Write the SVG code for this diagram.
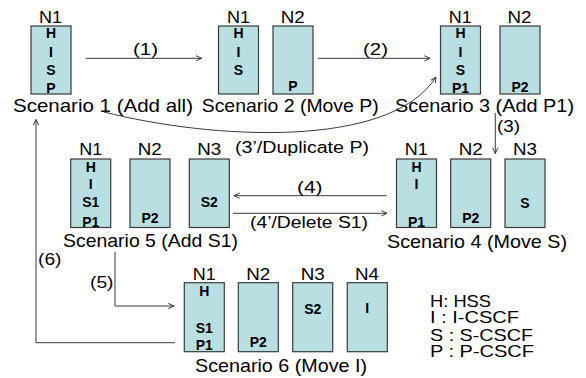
<svg xmlns="http://www.w3.org/2000/svg" width="586" height="378" viewBox="0 0 586 378">
  <style>
    .box { fill: #b9dfe3; stroke: #3a3a3a; stroke-width: 1.2; }
    .nlab { font-family: "Liberation Sans", Arial, sans-serif; font-size: 16px; fill: #000; text-anchor: middle; }
    .srv { font-family: "Liberation Sans", Arial, sans-serif; font-size: 14px; font-weight: bold; fill: #000; text-anchor: middle; }
    .cap { font-family: "Liberation Sans", Arial, sans-serif; font-size: 19px; fill: #000; }
    .lbl { font-family: "Liberation Sans", Arial, sans-serif; font-size: 16px; fill: #000; }
    .leg { font-family: "Liberation Sans", Arial, sans-serif; font-size: 16.5px; fill: #000; }
    .edge { fill: none; stroke: #3a3a3a; stroke-width: 1; }
  </style>
  <defs>
    <marker id="arr" viewBox="0 0 8 8" refX="7.5" refY="4" markerWidth="7" markerHeight="7" markerUnits="userSpaceOnUse" orient="auto">
      <path d="M1,1 L7.5,4 L1,7" fill="none" stroke="#333" stroke-width="1.1"/>
    </marker>
  </defs>

  <!-- Scenario 1 -->
  <g id="scenario1">
    <g id="s1-n1">
      <text class="nlab" x="50.5" y="23" textLength="23" lengthAdjust="spacingAndGlyphs">N1</text>
      <rect class="box" x="31" y="26" width="40" height="68"/>
      <text class="srv" x="51" y="38">H</text>
      <text class="srv" x="51" y="57">I</text>
      <text class="srv" x="51" y="74.5">S</text>
      <text class="srv" x="51" y="93">P</text>
    </g>
    <text class="cap" x="13" y="112" textLength="180" lengthAdjust="spacingAndGlyphs">Scenario 1 (Add all)</text>
  </g>

  <!-- Scenario 2 -->
  <g id="scenario2">
    <g id="s2-n1">
      <text class="nlab" x="238.5" y="23" textLength="23" lengthAdjust="spacingAndGlyphs">N1</text>
      <rect class="box" x="218.5" y="26" width="40" height="68"/>
      <text class="srv" x="238.5" y="38">H</text>
      <text class="srv" x="238.5" y="57">I</text>
      <text class="srv" x="238.5" y="75">S</text>
    </g>
    <g id="s2-n2">
      <text class="nlab" x="292.7" y="23" textLength="24" lengthAdjust="spacingAndGlyphs">N2</text>
      <rect class="box" x="273" y="26" width="40" height="68"/>
      <text class="srv" x="293" y="91">P</text>
    </g>
    <text class="cap" x="201.7" y="112" textLength="177" lengthAdjust="spacingAndGlyphs">Scenario 2 (Move P)</text>
  </g>

  <!-- Scenario 3 -->
  <g id="scenario3">
    <g id="s3-n1">
      <text class="nlab" x="460.3" y="23" textLength="23" lengthAdjust="spacingAndGlyphs">N1</text>
      <rect class="box" x="440.5" y="26" width="40" height="68"/>
      <text class="srv" x="460.5" y="38">H</text>
      <text class="srv" x="460.5" y="57">I</text>
      <text class="srv" x="460.5" y="74.5">S</text>
      <text class="srv" x="460.5" y="93">P1</text>
    </g>
    <g id="s3-n2">
      <text class="nlab" x="519.5" y="23" textLength="24" lengthAdjust="spacingAndGlyphs">N2</text>
      <rect class="box" x="500" y="26" width="40" height="68"/>
      <text class="srv" x="520" y="91.5">P2</text>
    </g>
    <text class="cap" x="395" y="112" textLength="179" lengthAdjust="spacingAndGlyphs">Scenario 3 (Add P1)</text>
  </g>

  <!-- Scenario 4 -->
  <g id="scenario4">
    <g id="s4-n1">
      <text class="nlab" x="416.3" y="155" textLength="23" lengthAdjust="spacingAndGlyphs">N1</text>
      <rect class="box" x="396.5" y="159" width="40" height="68.5"/>
      <text class="srv" x="416.5" y="172">H</text>
      <text class="srv" x="416.5" y="189">I</text>
      <text class="srv" x="416.5" y="226.7">P1</text>
    </g>
    <g id="s4-n2">
      <text class="nlab" x="470.7" y="155" textLength="24" lengthAdjust="spacingAndGlyphs">N2</text>
      <rect class="box" x="450.7" y="159" width="40" height="68.5"/>
      <text class="srv" x="470.7" y="223">P2</text>
    </g>
    <g id="s4-n3">
      <text class="nlab" x="525" y="155" textLength="24" lengthAdjust="spacingAndGlyphs">N3</text>
      <rect class="box" x="505" y="159" width="40" height="68.5"/>
      <text class="srv" x="525" y="208">S</text>
    </g>
    <text class="cap" x="387" y="248" textLength="180" lengthAdjust="spacingAndGlyphs">Scenario 4 (Move S)</text>
  </g>

  <!-- Scenario 5 -->
  <g id="scenario5">
    <g id="s5-n1">
      <text class="nlab" x="90.7" y="155" textLength="23" lengthAdjust="spacingAndGlyphs">N1</text>
      <rect class="box" x="70.7" y="159" width="40" height="68.5"/>
      <text class="srv" x="90.7" y="172">H</text>
      <text class="srv" x="90.7" y="189">I</text>
      <text class="srv" x="90.7" y="207">S1</text>
      <text class="srv" x="90.7" y="226.7">P1</text>
    </g>
    <g id="s5-n2">
      <text class="nlab" x="149.7" y="155" textLength="24" lengthAdjust="spacingAndGlyphs">N2</text>
      <rect class="box" x="130" y="159" width="40" height="68.5"/>
      <text class="srv" x="150" y="222.7">P2</text>
    </g>
    <g id="s5-n3">
      <text class="nlab" x="209.3" y="155" textLength="24" lengthAdjust="spacingAndGlyphs">N3</text>
      <rect class="box" x="189.3" y="159" width="40" height="68.5"/>
      <text class="srv" x="209.3" y="207">S2</text>
    </g>
    <text class="cap" x="63" y="247" textLength="175" lengthAdjust="spacingAndGlyphs">Scenario 5 (Add S1)</text>
  </g>

  <!-- Scenario 6 -->
  <g id="scenario6">
    <g id="s6-n1">
      <text class="nlab" x="204.3" y="280" textLength="23" lengthAdjust="spacingAndGlyphs">N1</text>
      <rect class="box" x="184.3" y="282.7" width="40" height="69"/>
      <text class="srv" x="204.3" y="296">H</text>
      <text class="srv" x="204.3" y="332.7">S1</text>
      <text class="srv" x="204.3" y="350">P1</text>
    </g>
    <g id="s6-n2">
      <text class="nlab" x="258.3" y="280" textLength="24" lengthAdjust="spacingAndGlyphs">N2</text>
      <rect class="box" x="238.3" y="282.7" width="40" height="69"/>
      <text class="srv" x="258.3" y="347.3">P2</text>
    </g>
    <g id="s6-n3">
      <text class="nlab" x="312.7" y="280" textLength="24" lengthAdjust="spacingAndGlyphs">N3</text>
      <rect class="box" x="292.7" y="282.7" width="40" height="69"/>
      <text class="srv" x="312.7" y="314.3">S2</text>
    </g>
    <g id="s6-n4">
      <text class="nlab" x="367" y="280" textLength="24" lengthAdjust="spacingAndGlyphs">N4</text>
      <rect class="box" x="347.3" y="282.7" width="40" height="69"/>
      <text class="srv" x="367.3" y="313.3">I</text>
    </g>
    <text class="cap" x="195" y="372" textLength="172" lengthAdjust="spacingAndGlyphs">Scenario 6 (Move I)</text>
  </g>

  <!-- Transitions between scenarios -->
  <g id="connectors">
    <path class="edge" d="M85.7,58.3 H201.7" marker-end="url(#arr)"/>
    <text class="lbl" x="133" y="55" textLength="25" lengthAdjust="spacingAndGlyphs">(1)</text>

    <path class="edge" d="M317.7,58.3 H430" marker-end="url(#arr)"/>
    <text class="lbl" x="363" y="55" textLength="25" lengthAdjust="spacingAndGlyphs">(2)</text>

    <path class="edge" d="M495.3,113 V153.5" marker-end="url(#arr)"/>
    <text class="lbl" x="497" y="132" textLength="23" lengthAdjust="spacingAndGlyphs">(3)</text>

    <path class="edge" d="M104,112 C210,139 390,150 436,77" marker-end="url(#arr)"/>
    <text class="lbl" x="235" y="152.5" textLength="134" lengthAdjust="spacingAndGlyphs">(3’/Duplicate P)</text>

    <path class="edge" d="M386.7,195.7 H234" marker-end="url(#arr)"/>
    <text class="lbl" x="297" y="192.5" textLength="25.5" lengthAdjust="spacingAndGlyphs">(4)</text>

    <path class="edge" d="M233,213.3 H387" marker-end="url(#arr)"/>
    <text class="lbl" x="250" y="228.3" textLength="118" lengthAdjust="spacingAndGlyphs">(4’/Delete S1)</text>

    <path class="edge" d="M115,251.7 V306 H174" marker-end="url(#arr)"/>
    <text class="lbl" x="90" y="287.5" textLength="23.5" lengthAdjust="spacingAndGlyphs">(5)</text>

    <path class="edge" d="M175,342.7 H36 V119.5" marker-end="url(#arr)"/>
    <text class="lbl" x="38" y="265" textLength="23.5" lengthAdjust="spacingAndGlyphs">(6)</text>
  </g>

  <!-- Legend -->
  <g id="legend">
    <text class="leg" x="430" y="306.7" textLength="61" lengthAdjust="spacingAndGlyphs">H: HSS</text>
    <text class="leg" x="430" y="323.3" textLength="89" lengthAdjust="spacingAndGlyphs">I : I-CSCF</text>
    <text class="leg" x="430" y="340.7" textLength="103" lengthAdjust="spacingAndGlyphs">S : S-CSCF</text>
    <text class="leg" x="430" y="357.3" textLength="104" lengthAdjust="spacingAndGlyphs">P : P-CSCF</text>
  </g>
</svg>
